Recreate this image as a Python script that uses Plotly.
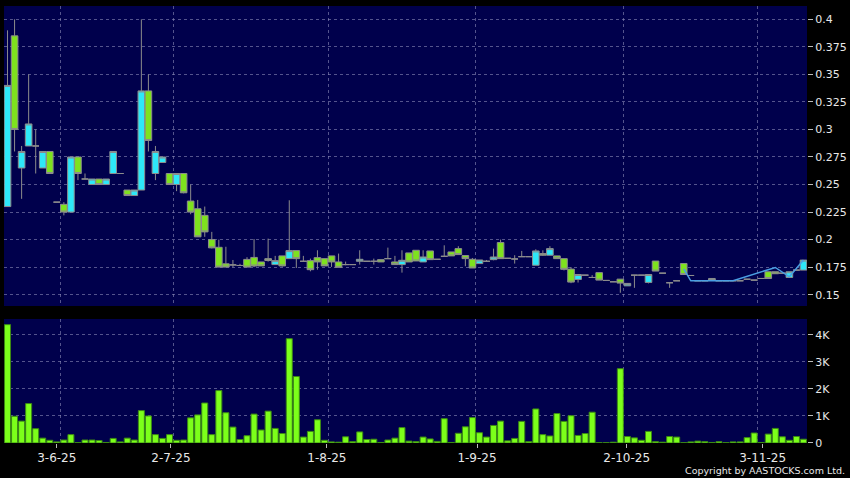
import plotly.graph_objects as go

# ---------------- data ----------------
idx = list(range(114))

open_ = [
    0.230, 0.385, 0.265, 0.285, 0.285, 0.265, 0.280, 0.234, 0.232, 0.225,
    0.275, 0.255, 0.250, 0.255, 0.250, 0.260, 0.260, 0.245, 0.240, 0.245,
    0.335, 0.260, 0.270, 0.260, 0.250, 0.260, 0.235, 0.228, 0.222, 0.200,
    0.193, 0.178, 0.177, 0.1765, 0.182, 0.1838, 0.1797, 0.1827, 0.1773, 0.1852,
    0.1827, 0.190, 0.1803, 0.1809, 0.1836, 0.1827, 0.1852, 0.1797, 0.1773, 0.1773,
    0.1803, 0.1803, 0.1803, 0.1818, 0.1827, 0.1797, 0.1773, 0.1879, 0.1903, 0.1797,
    0.1897, 0.1821, 0.1848, 0.1888, 0.1918, 0.1855, 0.1821, 0.1782, 0.1803, 0.1818,
    0.1973, 0.183, 0.1824, 0.1845, 0.1845, 0.1767, 0.1873, 0.1858, 0.1852, 0.1827,
    0.1732, 0.1638, 0.1677, 0.1656, 0.170, 0.1629, 0.1617, 0.1641, 0.158, 0.1677,
    0.1677, 0.1611, 0.1805, 0.1695, 0.1608, 0.1626, 0.1783, 0.1674, 0.1626, 0.1626,
    0.1629, 0.1626, 0.1626, 0.1626, 0.1626, 0.164, 0.1632, 0.1647, 0.1708, 0.1708,
    0.1695, 0.1656, 0.1723, 0.1723,
]
high = [
    0.390, 0.400, 0.285, 0.350, 0.300, 0.280, 0.280, 0.234, 0.234, 0.275,
    0.275, 0.260, 0.255, 0.255, 0.255, 0.280, 0.260, 0.245, 0.245, 0.400,
    0.350, 0.285, 0.275, 0.260, 0.260, 0.260, 0.250, 0.236, 0.230, 0.207,
    0.200, 0.1935, 0.1815, 0.178, 0.184, 0.2005, 0.1797, 0.2009, 0.1852, 0.1852,
    0.2357, 0.190, 0.1852, 0.1827, 0.1903, 0.1827, 0.1852, 0.1873, 0.180, 0.1773,
    0.1903, 0.1803, 0.1827, 0.1818, 0.1927, 0.1852, 0.1903, 0.1879, 0.1903, 0.1903,
    0.1897, 0.1821, 0.1948, 0.1888, 0.194, 0.1855, 0.1833, 0.1815, 0.1815, 0.1918,
    0.200, 0.183, 0.1858, 0.1897, 0.1845, 0.1912, 0.1903, 0.194, 0.1852, 0.1827,
    0.175, 0.1683, 0.1677, 0.1677, 0.170, 0.1629, 0.1617, 0.1641, 0.1602, 0.1677,
    0.1677, 0.1683, 0.1805, 0.1695, 0.1608, 0.1626, 0.1783, 0.1674, 0.1626, 0.1626,
    0.1647, 0.1626, 0.1626, 0.1626, 0.1626, 0.164, 0.1632, 0.1647, 0.1708, 0.1708,
    0.1695, 0.1708, 0.1723, 0.1814,
]
low = [
    0.230, 0.280, 0.237, 0.285, 0.260, 0.265, 0.260, 0.234, 0.222, 0.225,
    0.254, 0.255, 0.250, 0.250, 0.250, 0.260, 0.260, 0.240, 0.240, 0.245,
    0.280, 0.254, 0.270, 0.250, 0.244, 0.242, 0.223, 0.2025, 0.2025, 0.192,
    0.175, 0.175, 0.175, 0.176, 0.175, 0.175, 0.1761, 0.180, 0.1773, 0.1755,
    0.1827, 0.1742, 0.180, 0.1712, 0.1727, 0.1761, 0.1752, 0.1748, 0.1767, 0.1773,
    0.1773, 0.1803, 0.1773, 0.1797, 0.1827, 0.1773, 0.170, 0.1797, 0.1806, 0.1797,
    0.1818, 0.1821, 0.1848, 0.1852, 0.1864, 0.1758, 0.1742, 0.1782, 0.1797, 0.1812,
    0.1827, 0.183, 0.1782, 0.1845, 0.1845, 0.1767, 0.1852, 0.1858, 0.1827, 0.172,
    0.1604, 0.161, 0.1677, 0.1656, 0.1632, 0.1629, 0.1617, 0.1517, 0.158, 0.1562,
    0.1677, 0.1602, 0.1714, 0.1695, 0.1562, 0.1626, 0.1683, 0.1674, 0.1626, 0.1626,
    0.1629, 0.1626, 0.1626, 0.1626, 0.1626, 0.164, 0.1632, 0.1647, 0.1647, 0.169,
    0.1695, 0.1656, 0.1723, 0.1723,
]
close = [
    0.340, 0.300, 0.280, 0.305, 0.285, 0.280, 0.260, 0.234, 0.225, 0.275,
    0.260, 0.255, 0.255, 0.250, 0.255, 0.280, 0.260, 0.240, 0.245, 0.335,
    0.290, 0.280, 0.275, 0.250, 0.260, 0.2425, 0.225, 0.2025, 0.207, 0.1925,
    0.175, 0.175, 0.177, 0.1765, 0.175, 0.176, 0.1761, 0.181, 0.1809, 0.1761,
    0.190, 0.1827, 0.1803, 0.1727, 0.1797, 0.1761, 0.1797, 0.1748, 0.1773, 0.1773,
    0.1821, 0.1803, 0.1803, 0.1797, 0.1827, 0.1773, 0.1812, 0.1797, 0.1806, 0.1842,
    0.1818, 0.1821, 0.1848, 0.1852, 0.1864, 0.1827, 0.1742, 0.1815, 0.1803, 0.1842,
    0.1827, 0.183, 0.1824, 0.1845, 0.1845, 0.1897, 0.1858, 0.1918, 0.1827, 0.173,
    0.1614, 0.1683, 0.1677, 0.1656, 0.1632, 0.1629, 0.1617, 0.1605, 0.1602, 0.1677,
    0.1677, 0.1683, 0.1714, 0.1695, 0.1608, 0.1626, 0.1683, 0.1674, 0.1626, 0.1626,
    0.1647, 0.1626, 0.1626, 0.1626, 0.1626, 0.164, 0.1632, 0.1647, 0.1647, 0.169,
    0.1695, 0.1708, 0.1723, 0.1814,
]
volume_k = [
    4.38, 0.99, 0.81, 1.46, 0.53, 0.18, 0.10, 0.04, 0.11, 0.31,
    0.01, 0.11, 0.11, 0.09, 0.02, 0.17, 0.04, 0.18, 0.11, 1.20,
    1.00, 0.31, 0.17, 0.31, 0.10, 0.11, 0.93, 1.04, 1.48, 0.31,
    1.94, 1.12, 0.59, 0.13, 0.27, 1.07, 0.48, 1.18, 0.54, 0.35,
    3.86, 2.46, 0.22, 0.43, 0.86, 0.10, 0.04, 0.03, 0.23, 0.05,
    0.41, 0.13, 0.14, 0.02, 0.11, 0.18, 0.57, 0.07, 0.05, 0.22,
    0.15, 0.06, 0.90, 0.02, 0.36, 0.60, 0.94, 0.38, 0.22, 0.65,
    0.81, 0.08, 0.17, 0.80, 0.05, 1.26, 0.31, 0.26, 1.09, 0.80,
    1.01, 0.28, 0.35, 1.14, 0.01, 0.01, 0.03, 2.75, 0.24, 0.19,
    0.10, 0.43, 0.05, 0.03, 0.24, 0.22, 0.01, 0.04, 0.07, 0.05,
    0.02, 0.05, 0.01, 0.04, 0.04, 0.20, 0.37, 0.02, 0.33, 0.54,
    0.23, 0.10, 0.24, 0.14,
]
line_x = [96, 97, 103, 109, 111, 113]
line_y = [0.1735, 0.1626, 0.1626, 0.1747, 0.1662, 0.1814]

date_labels = ["3-6-25", "2-7-25", "1-8-25", "1-9-25", "2-10-25", "3-11-25"]
date_label_pos = [6.99, 23.2, 45.34, 66.65, 87.9, 107.2]
date_grid_pos = [7.5, 23.55, 45.57, 66.5, 87.47, 106.5]

price_ticks = [0.15, 0.175, 0.2, 0.225, 0.25, 0.275, 0.3, 0.325, 0.35, 0.375, 0.4]
price_tick_text = ["0.15", "0.175", "0.2", "0.225", "0.25", "0.275", "0.3",
                   "0.325", "0.35", "0.375", "0.4"]
vol_ticks = [0, 1, 2, 3, 4]
vol_tick_text = ["0", "1K", "2K", "3K", "4K"]

# ---------------- style ----------------
NAVY = "#00004c"
CYAN = "#2ee8f8"
GREEN = "#7ee21e"
WICK = "#8c8c8c"
VGREEN = "#7cff1a"
VEDGE = "#3c8a14"
GRID = "rgba(140,140,185,0.6)"
TXT = "#e8e8e8"
FONT = "DejaVu Sans"

fig = go.Figure()
fig.add_trace(go.Candlestick(
    x=idx, open=open_, high=high, low=low, close=close,
    increasing=dict(line=dict(color=WICK, width=1), fillcolor=CYAN),
    decreasing=dict(line=dict(color=WICK, width=1), fillcolor=GREEN),
    whiskerwidth=0, xaxis="x", yaxis="y", showlegend=False, hoverinfo="skip",
))
fig.add_trace(go.Scatter(
    x=line_x, y=line_y, mode="lines", line=dict(color="#4a9ee2", width=1.5),
    xaxis="x", yaxis="y", showlegend=False, hoverinfo="skip",
))
fig.add_trace(go.Bar(
    x=idx, y=volume_k, xaxis="x2", yaxis="y2",
    marker=dict(color=VGREEN, line=dict(color=VEDGE, width=1)),
    showlegend=False, hoverinfo="skip",
))

xr = [-0.5, len(idx) - 0.5]
minor_grid = dict(tickmode="array", tickvals=date_grid_pos, showgrid=True,
                  gridcolor=GRID, griddash="3px,3px", gridwidth=1, ticks="")

fig.update_layout(
    width=850, height=478,
    paper_bgcolor="black", plot_bgcolor=NAVY,
    margin=dict(l=4, r=43, t=6, b=35),
    boxgap=0.06, boxgroupgap=0, bargap=0.15,
    font=dict(family=FONT, color=TXT, size=11),
    xaxis=dict(domain=[0, 1], anchor="y", range=xr, rangeslider=dict(visible=False),
               showticklabels=False, ticks="", showgrid=False, zeroline=False,
               showline=False, minor=minor_grid),
    xaxis2=dict(domain=[0, 1], anchor="y2", range=xr, tickmode="array",
                tickvals=date_label_pos, ticktext=date_labels, ticks="outside",
                ticklen=4, tickcolor="#bbbbbb", tickfont=dict(size=12, color=TXT),
                showgrid=False, zeroline=False, showline=False, minor=minor_grid),
    yaxis=dict(domain=[0.3135, 1], anchor="x", side="right", range=[0.1397, 0.4121],
               tickmode="array", tickvals=price_ticks, ticktext=price_tick_text,
               ticks="outside", ticklen=5, tickcolor="#bbbbbb",
               showgrid=True, gridcolor=GRID, griddash="3px,3px", zeroline=False,
               tickfont=dict(size=11, color=TXT)),
    yaxis2=dict(domain=[0, 0.2838], anchor="x2", side="right", range=[0, 4.59],
                tickmode="array", tickvals=vol_ticks, ticktext=vol_tick_text,
                ticks="outside", ticklen=5, tickcolor="#bbbbbb",
                showgrid=True, gridcolor=GRID, griddash="3px,3px", zeroline=False,
                tickfont=dict(size=11, color=TXT)),
    annotations=[dict(text="Copyright by AASTOCKS.com Ltd.", xref="paper", yref="paper",
                      x=1.0498, y=-0.062, xanchor="right", yanchor="middle",
                      showarrow=False, font=dict(size=9.5, color=TXT, family=FONT))],
)

fig.write_html(
    "out.html",
    config={"displayModeBar": False},
    post_script="document.body.style.margin='0';document.body.style.background='black';",
)
